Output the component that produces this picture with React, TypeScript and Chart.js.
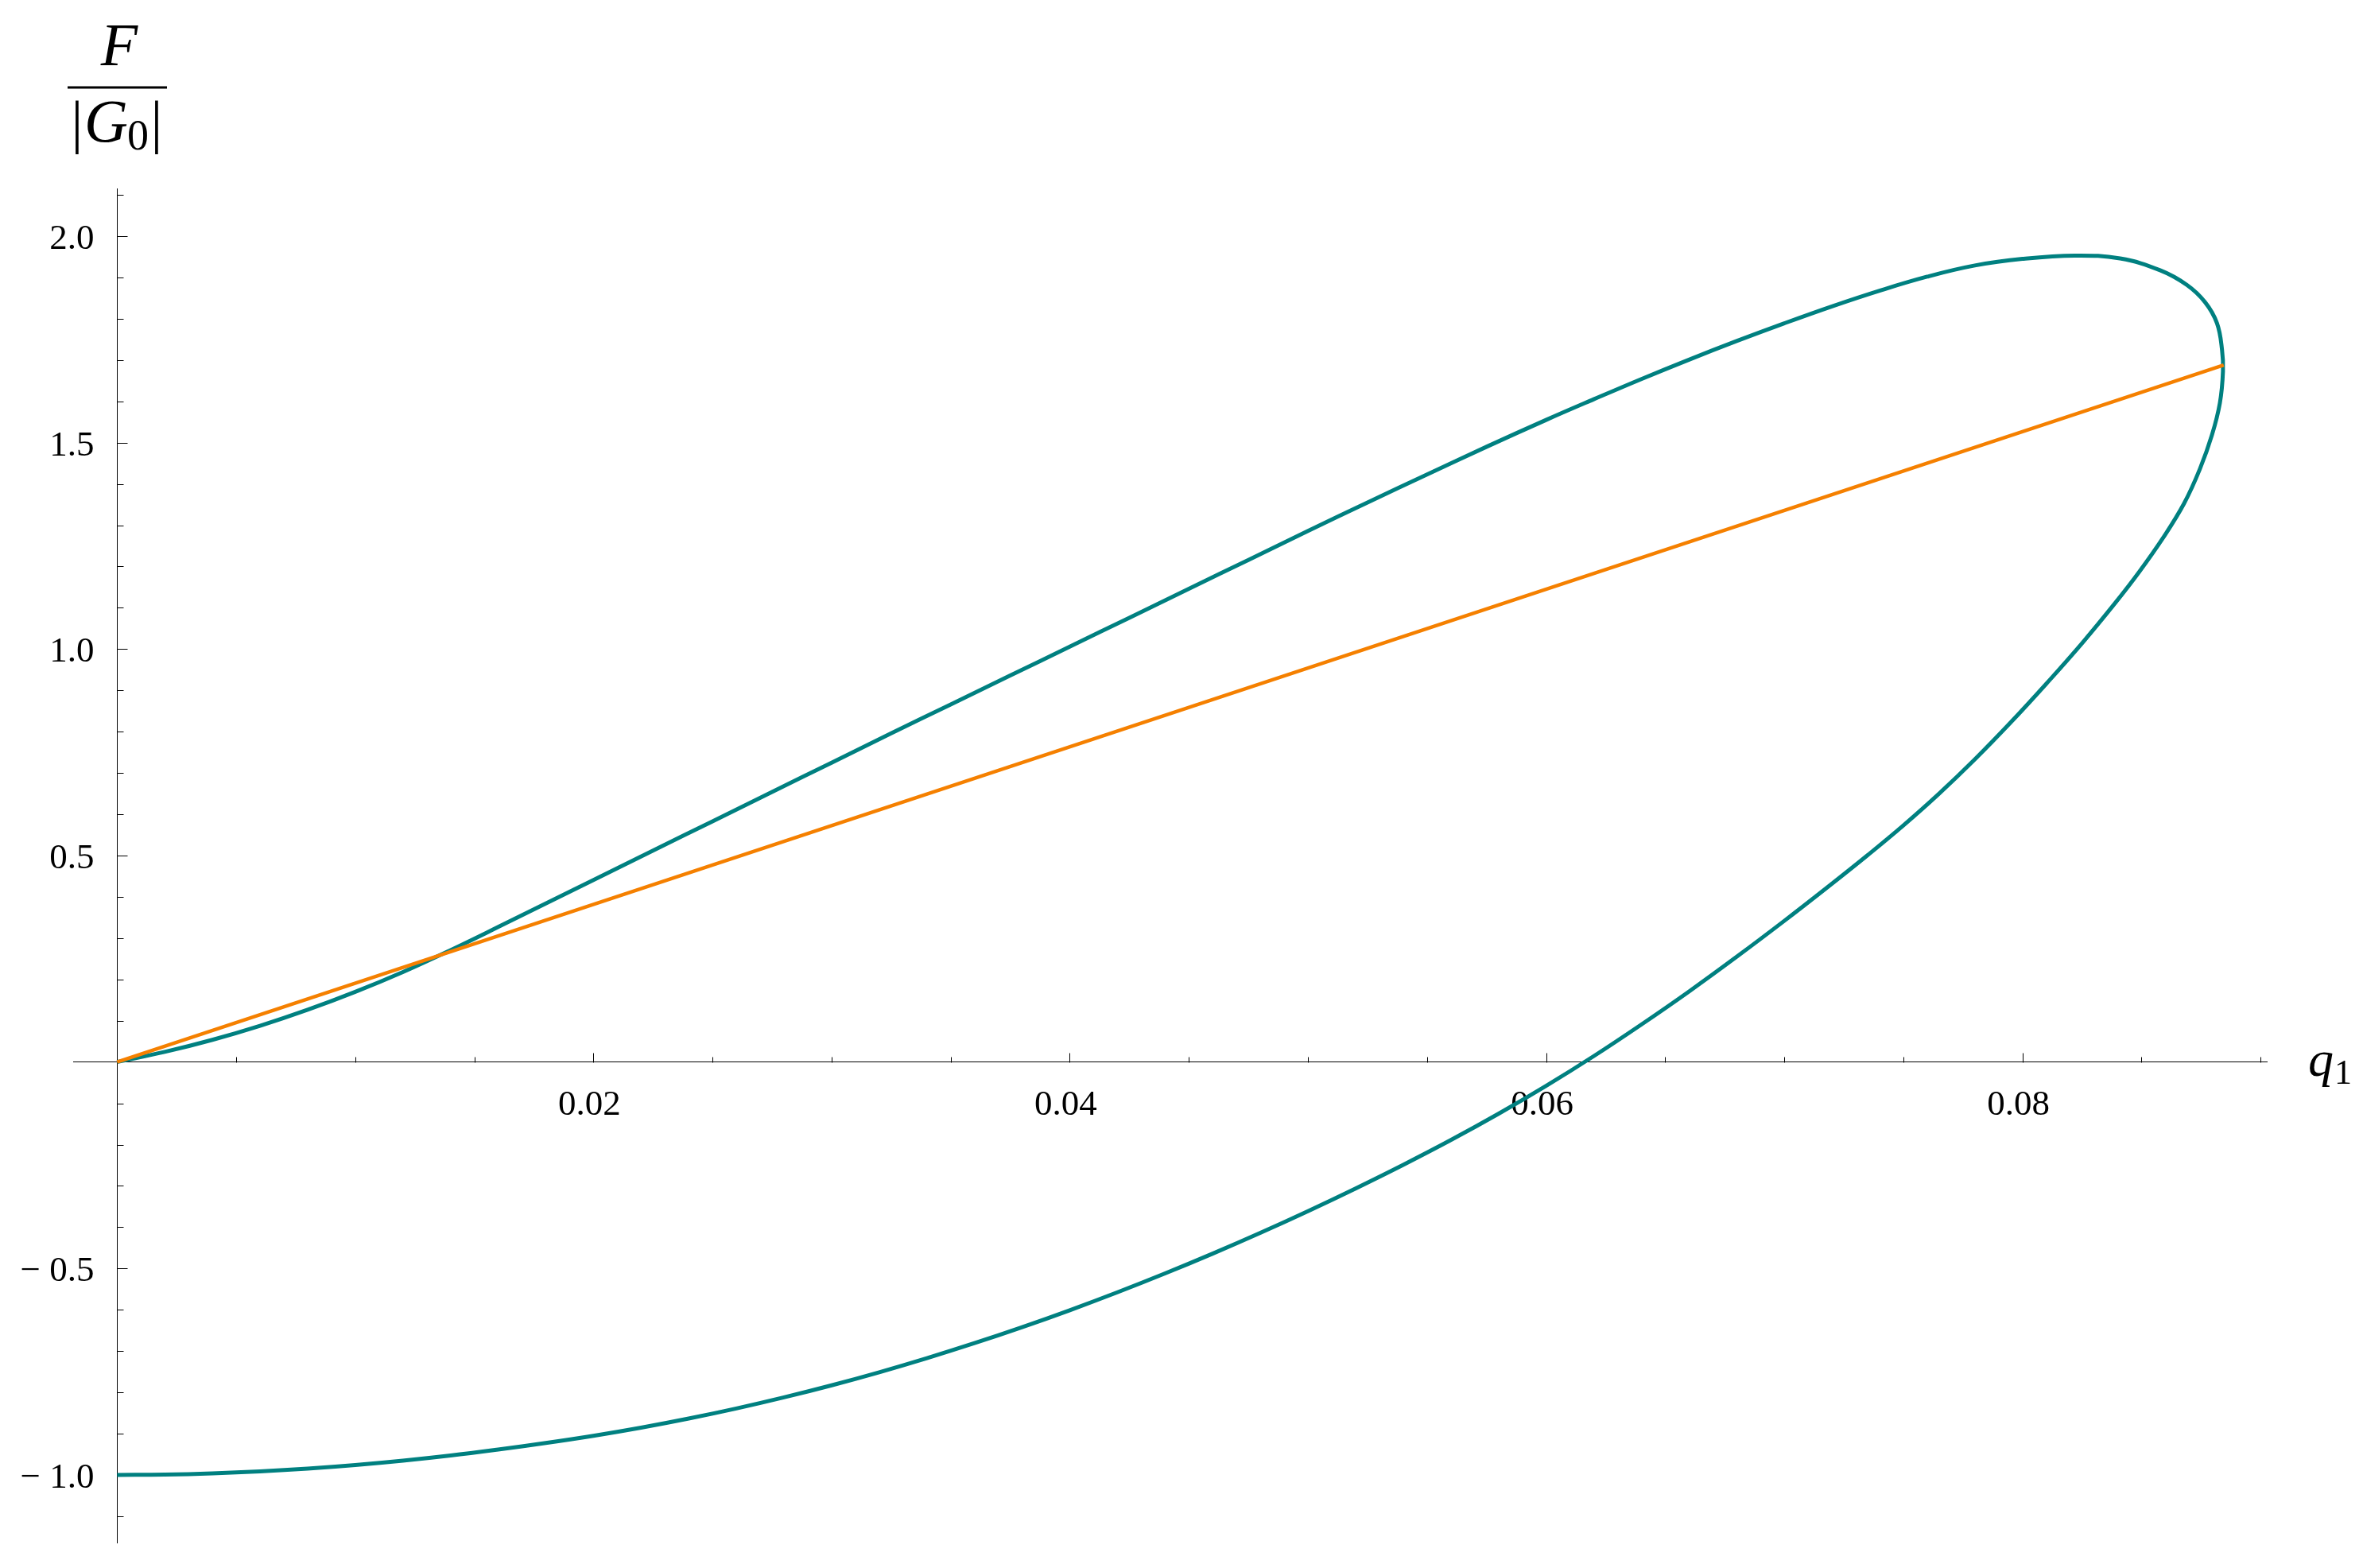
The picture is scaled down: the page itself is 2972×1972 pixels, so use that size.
import React, { useEffect, useRef } from 'react';
import { Chart, registerables } from 'chart.js';

Chart.register(...registerables);

// Teal curve, q1 values: origin -> upper branch -> tip -> lower branch -> (0, -1)
const tealQ1 = [
  0, 0.002, 0.004, 0.006, 0.008, 0.010, 0.012, 0.014, 0.016, 0.018, 0.020, 0.0225, 0.025, 0.0275,
  0.030, 0.0325, 0.035, 0.0375, 0.040, 0.0425, 0.045, 0.0475, 0.050, 0.0525, 0.055, 0.0575, 0.060,
  0.062, 0.064, 0.066, 0.068, 0.070, 0.072, 0.074, 0.076, 0.078, 0.080, 0.0822, 0.0841, 0.0858,
  0.0869, 0.08767, 0.08817, 0.08838, 0.08842, 0.08829, 0.08796, 0.08745, 0.08679, 0.0859, 0.08489,
  0.0839, 0.0825, 0.081, 0.0795, 0.078, 0.0765, 0.075, 0.0735, 0.07187, 0.070, 0.068, 0.066, 0.064,
  0.062, 0.060, 0.058, 0.056, 0.054, 0.052, 0.050, 0.048, 0.046, 0.044, 0.042, 0.040, 0.038, 0.036,
  0.034, 0.032, 0.030, 0.028, 0.026, 0.024, 0.022, 0.020, 0.018, 0.016, 0.014, 0.012, 0.010, 0.008,
  0.006, 0.004, 0.002, 0,
];
// Teal curve, F/|G0| values
const tealF = [
  0, 0.0246, 0.0538, 0.0878, 0.1266, 0.170, 0.218, 0.271, 0.327, 0.384, 0.441, 0.512, 0.583, 0.654,
  0.725, 0.796, 0.866, 0.936, 1.006, 1.076, 1.146, 1.216, 1.286, 1.355, 1.423, 1.490, 1.555,
  1.605, 1.654, 1.701, 1.746, 1.789, 1.830, 1.868, 1.902, 1.929, 1.945, 1.953, 1.946, 1.917,
  1.882, 1.840, 1.789, 1.725, 1.673, 1.596, 1.519, 1.436, 1.353, 1.269, 1.186,
  1.112, 1.014, 0.916, 0.822, 0.733, 0.650, 0.573, 0.501, 0.4259, 0.3419, 0.2549, 0.1709, 0.0909,
  0.0143, -0.0577, -0.1253, -0.1889, -0.2489, -0.3061, -0.361, -0.4136, -0.4639, -0.5119, -0.5576, -0.601, -0.6421, -0.6808,
  -0.7172, -0.7513, -0.7829, -0.8121, -0.839, -0.8634, -0.8855, -0.9052, -0.9226, -0.9383, -0.9528, -0.9653, -0.9759, -0.9846,
  -0.9913, -0.9961, -0.999, -1.0,
];
// Orange straight line
const orangeQ1 = [0, 0.08845];
const orangeF = [0, 1.688];

// Axis ticks
const xTickValues = [0.02, 0.04, 0.06, 0.08];
const xTickLabels = ['0.02', '0.04', '0.06', '0.08'];
const yTickValues = [-1, -0.5, 0.5, 1, 1.5, 2];
const yTickLabels = ['\u2212 1.0', '\u2212 0.5', '0.5', '1.0', '1.5', '2.0'];

const X_MIN = -0.001846;
const X_MAX = 0.09026;
const Y_MIN = -1.1637;
const Y_MAX = 2.1156;

const TEAL = '#008080';
const ORANGE = '#f58000';
const SERIF = '"Liberation Serif", "DejaVu Serif", serif';

const mmaAxesPlugin = {
  id: 'mmaAxes',
  beforeDatasetsDraw(chart: any) {
    const { ctx, scales } = chart;
    const xs = scales.x;
    const ys = scales.y;
    const x0 = Math.round(xs.getPixelForValue(0)) + 0.5;
    const y0 = Math.round(ys.getPixelForValue(0)) + 0.5;
    ctx.save();
    ctx.strokeStyle = '#000';
    ctx.lineWidth = 1;
    ctx.beginPath();
    // x ticks every 0.005, pointing up
    for (let i = 1; i * 0.005 <= X_MAX + 1e-9; i++) {
      const v = i * 0.005;
      const major = i % 4 === 0;
      const px = Math.round(xs.getPixelForValue(v)) + 0.5;
      ctx.moveTo(px, y0);
      ctx.lineTo(px, y0 - (major ? 12 : 7));
    }
    // y ticks every 0.1, pointing right
    for (let i = -11; i <= 21; i++) {
      if (i === 0) continue;
      const v = i / 10;
      if (v < Y_MIN || v > Y_MAX) continue;
      const major = i % 5 === 0;
      const py = Math.round(ys.getPixelForValue(v)) + 0.5;
      ctx.moveTo(x0, py);
      ctx.lineTo(x0 + (major ? 13 : 8), py);
    }
    ctx.stroke();
    // tick labels
    ctx.fillStyle = '#000';
    ctx.font = `45px ${SERIF}`;
    ctx.textBaseline = 'alphabetic';
    ctx.textAlign = 'right';
    yTickValues.forEach((v, i) => {
      ctx.fillText(yTickLabels[i], x0 - 29, ys.getPixelForValue(v) + 16);
    });
    ctx.textAlign = 'center';
    xTickValues.forEach((v, i) => {
      ctx.fillText(xTickLabels[i], xs.getPixelForValue(v) - 5, y0 + 65);
    });
    ctx.restore();
  },
  afterDraw(chart: any) {
    const { ctx } = chart;
    ctx.save();
    ctx.fillStyle = '#000';
    ctx.textBaseline = 'alphabetic';
    // y-axis label: F / |G0|
    ctx.textAlign = 'center';
    ctx.font = `italic 76px ${SERIF}`;
    ctx.fillText('F', 150, 82);
    ctx.fillRect(85, 108.5, 125, 3);
    ctx.font = `74px ${SERIF}`;
    ctx.fillText('|', 97, 178);
    ctx.fillText('|', 197, 178);
    ctx.textAlign = 'left';
    ctx.font = `italic 76px ${SERIF}`;
    ctx.fillText('G', 106, 178);
    ctx.font = `54px ${SERIF}`;
    ctx.fillText('0', 160, 188);
    // x-axis label: q1
    ctx.font = `italic 64px ${SERIF}`;
    ctx.fillText('q', 2903, 1353);
    ctx.font = `44px ${SERIF}`;
    ctx.fillText('1', 2936, 1363);
    ctx.restore();
  },
};

export default function App() {
  const canvasRef = useRef<HTMLCanvasElement | null>(null);

  useEffect(() => {
    if (!canvasRef.current) return;
    const teal = tealQ1.map((q, i) => ({ x: q, y: tealF[i] }));
    const orange = orangeQ1.map((q, i) => ({ x: q, y: orangeF[i] }));
    const chart = new Chart(canvasRef.current, {
      type: 'scatter',
      data: {
        datasets: [
          {
            data: orange,
            showLine: true,
            borderColor: ORANGE,
            borderWidth: 4.5,
            pointRadius: 0,
            order: 0,
          },
          {
            data: teal,
            showLine: true,
            borderColor: TEAL,
            borderWidth: 5,
            pointRadius: 0,
            tension: 0.4,
            order: 1,
          },
        ],
      },
      plugins: [mmaAxesPlugin],
      options: {
        animation: false,
        responsive: false,
        events: [],
        layout: { padding: { left: 92, right: 121, top: 237, bottom: 32 } },
        plugins: { legend: { display: false }, tooltip: { enabled: false } },
        scales: {
          x: {
            type: 'linear',
            min: X_MIN,
            max: X_MAX,
            position: { y: 0 } as any,
            afterFit: (s: any) => { s.height = 0; },
            afterBuildTicks: (s: any) => { s.ticks = xTickValues.map((v) => ({ value: v })); },
            grid: { display: false, drawTicks: false, tickLength: 0 },
            border: { display: true, color: '#000', width: 1 },
            ticks: { display: false },
          },
          y: {
            type: 'linear',
            min: Y_MIN,
            max: Y_MAX,
            position: { x: 0 } as any,
            afterFit: (s: any) => { s.width = 0; },
            afterBuildTicks: (s: any) => { s.ticks = yTickValues.map((v) => ({ value: v })); },
            grid: { display: false, drawTicks: false, tickLength: 0 },
            border: { display: true, color: '#000', width: 1 },
            ticks: { display: false },
          },
        },
      },
    });
    return () => chart.destroy();
  }, []);

  return (
    <div style={{ position: 'fixed', left: 0, top: 0, width: 2972, height: 1972, background: '#fff' }}>
      <canvas ref={canvasRef} width={2972} height={1972} style={{ display: 'block' }} />
    </div>
  );
}
